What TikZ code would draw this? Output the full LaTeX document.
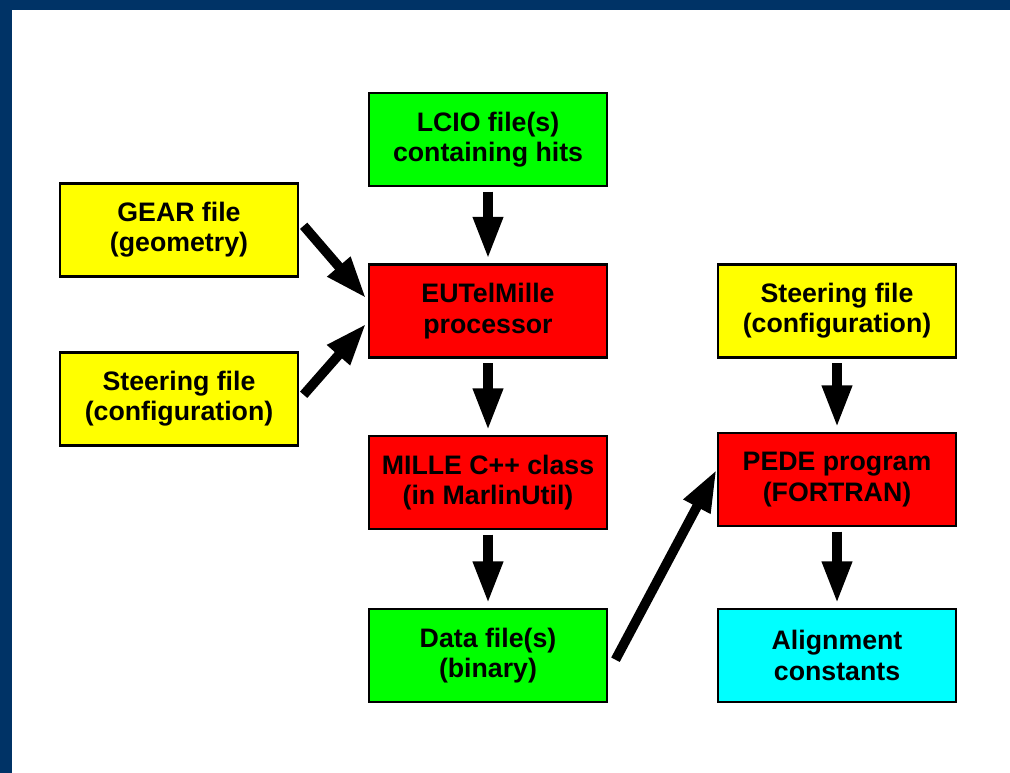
\documentclass[tikz,border=0pt]{standalone}
\usepackage{fontspec}
\setmainfont{Liberation Sans}
\usetikzlibrary{arrows.meta}
\definecolor{navy}{HTML}{003366}
\definecolor{boxgreen}{HTML}{00FF00}
\definecolor{boxyellow}{HTML}{FFFF00}
\definecolor{boxred}{HTML}{FF0000}
\definecolor{boxcyan}{HTML}{00FFFF}
\begin{document}
\begin{tikzpicture}[x=0.025cm,y=-0.025cm,
	box/.style={draw=black,line width=2pt,minimum width=5.95cm,minimum height=2.325cm,
		align=center,font=\fontsize{19}{21.5}\selectfont\bfseries,inner sep=0pt},
	arr/.style={line width=0.24cm,-{Triangle[length=1.05cm,width=0.7cm]}}]
		% frame
		\fill[navy] (0,0) rectangle (1010,773);
		\fill[white] (12,10) rectangle (1010,773);
		\useasboundingbox (0,0) rectangle (1010,773);
		
		\node[box,fill=boxgreen] at (488,139.5) (lcio) {LCIO file(s)\\containing hits};
		\node[box,fill=boxyellow] at (179,230) (gear) {GEAR file\\(geometry)};
		\node[box,fill=boxred] at (488,311) (mille) {EUTelMille\\processor};
		\node[box,fill=boxyellow] at (179,399) (steerl) {Steering file\\(configuration)};
		\node[box,fill=boxred] at (488,482.5) (cls) {MILLE C++ class\\(in MarlinUtil)};
		\node[box,fill=boxgreen] at (488,655.5) (data) {Data file(s)\\(binary)};
		\node[box,fill=boxyellow] at (837,311) (steerr) {Steering file\\(configuration)};
		\node[box,fill=boxred] at (837,479.5) (pede) {PEDE program\\(FORTRAN)};
		\node[box,fill=boxcyan] at (837,655.5) (align) {Alignment\\constants};
		
		\draw[arr,shorten <=3pt,shorten >=3pt] (lcio) -- (mille);
		\draw[arr,shorten <=3pt,shorten >=3pt] (mille) -- (cls);
		\draw[arr,shorten <=3pt,shorten >=3pt] (cls) -- (data);
		\draw[arr,shorten <=3pt,shorten >=3pt] (steerr) -- (pede);
		\draw[arr,shorten <=3pt,shorten >=3pt] (pede) -- (align);
		
		\draw[arr] ([xshift=3pt,yshift=3pt]gear.east) -- ([xshift=-1pt,yshift=9pt]mille.west);
		\draw[arr] ([xshift=3pt,yshift=3pt]steerl.east) -- ([xshift=-1pt,yshift=-9pt]mille.west);
		\draw[arr] ([xshift=5pt,yshift=-3pt]data.east) -- ([xshift=0pt,yshift=7pt]pede.west);
	\end{tikzpicture}
\end{document}
